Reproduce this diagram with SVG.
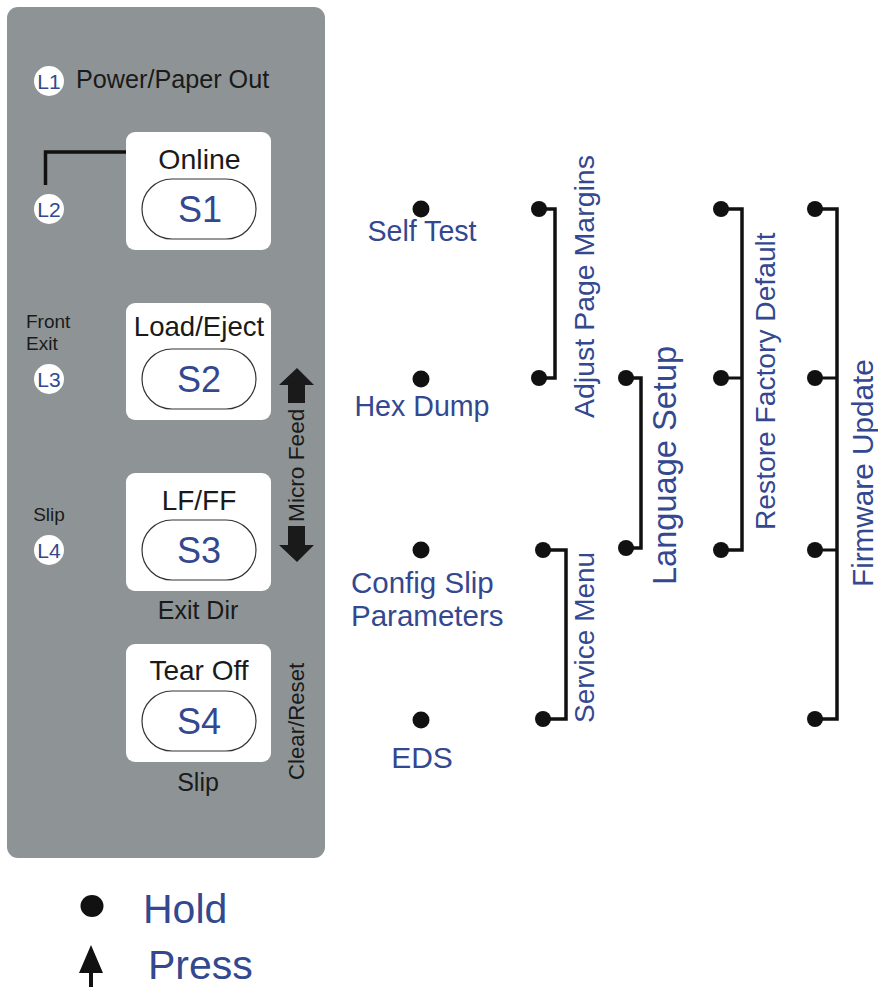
<svg xmlns="http://www.w3.org/2000/svg" width="878" height="987" viewBox="0 0 878 987">
<style>
text{font-family:"Liberation Sans",Arial,sans-serif}
.k{fill:#1a1a1a}.b{fill:#33488f}
.c{text-anchor:middle}
.key{fill:#fff}
.pill{fill:#fff;stroke:#333;stroke-width:1.2}
.led{fill:#fff}
.ln{fill:none;stroke:#111;stroke-width:3}
.thick{stroke-width:3.5}
.dot{fill:#111}
</style>
<rect width="878" height="987" fill="#fff"/>
<g id="panel"><rect x="7" y="7" width="318" height="851" rx="11" fill="#8e9496"/></g>
<g id="connectors">
<path class="ln thick" d="M45.500 185V152H127"/>
<path class="ln thick" d="M539 209H555V378H539"/>
<path class="ln thick" d="M626 378H641V548H626"/>
<path class="ln thick" d="M543 550H566V719H543"/>
<path class="ln thick" d="M721 209H742V550H721"/>
<path class="ln" d="M721 378H742"/>
<path class="ln thick" d="M815 209H837V719H815"/>
<path class="ln" d="M815 378H837"/>
<path class="ln" d="M815 550H837"/>
</g>
<g id="L1"><circle class="led" cx="49" cy="81" r="15"/><text class="b c" x="49" y="89" font-size="21">L1</text></g>
<text id="power" class="k" x="76" y="88" font-size="25.200">Power/Paper Out</text>
<g id="L2"><circle class="led" cx="49" cy="209" r="15"/><text class="b c" x="49" y="217" font-size="21">L2</text></g>
<g id="L3"><text class="k" x="26" y="328" font-size="19">Front</text><text class="k" x="26" y="350" font-size="19">Exit</text><circle class="led" cx="49" cy="379" r="15"/><text class="b c" x="49" y="387" font-size="21">L3</text></g>
<g id="L4"><text class="k c" x="49" y="521" font-size="19">Slip</text><circle class="led" cx="49" cy="550" r="15"/><text class="b c" x="49" y="558" font-size="21">L4</text></g>
<g id="S1"><rect class="key" x="126" y="132" width="145" height="118" rx="9"/><text class="k c" x="199.500" y="169" font-size="28.500">Online</text><rect class="pill" x="142" y="179" width="114" height="60" rx="30"/><text class="b c" x="200" y="222" font-size="36">S1</text></g>
<g id="S2"><rect class="key" x="126" y="303" width="145" height="117" rx="9"/><text class="k c" x="199" y="336" font-size="27.600">Load/Eject</text><rect class="pill" x="142" y="349" width="114" height="60" rx="30"/><text class="b c" x="199" y="392" font-size="36">S2</text></g>
<g id="S3"><rect class="key" x="126" y="473" width="145" height="118" rx="9"/><text class="k c" x="199" y="510" font-size="28">LF/FF</text><rect class="pill" x="142" y="520" width="114" height="60" rx="30"/><text class="b c" x="199" y="563" font-size="36">S3</text><text class="k c" x="198" y="619" font-size="25">Exit Dir</text></g>
<g id="S4"><rect class="key" x="126" y="644" width="145" height="118" rx="9"/><text class="k c" x="199" y="680" font-size="28">Tear Off</text><rect class="pill" x="142" y="691" width="114" height="60" rx="30"/><text class="b c" x="199" y="734" font-size="36">S4</text><text class="k c" x="198" y="791" font-size="25">Slip</text></g>
<g id="microfeed"><path class="k" d="M297 368L314 385H305V403H288V385H279Z"/><path class="k" d="M297 562L314 545H305V526H288V545H279Z"/><text class="k" transform="translate(304 522) rotate(-90)" font-size="22.700">Micro Feed</text></g>
<text id="clear" class="k" transform="translate(304 780) rotate(-90)" font-size="22.200">Clear/Reset</text>
<g id="selftest"><circle class="dot" cx="421" cy="209" r="8.500"/><text class="b c" x="422" y="241" font-size="28.600">Self Test</text></g>
<g id="hexdump"><circle class="dot" cx="421" cy="379" r="8.500"/><text class="b c" x="422" y="416" font-size="28.600">Hex Dump</text></g>
<g id="config"><circle class="dot" cx="421" cy="550" r="8.500"/><text class="b" x="351" y="593" font-size="29.500">Config Slip</text><text class="b" x="351" y="626" font-size="29.500">Parameters</text></g>
<g id="eds"><circle class="dot" cx="421" cy="720" r="8.500"/><text class="b c" x="422" y="768" font-size="30">EDS</text></g>
<g id="adjust"><circle class="dot" cx="539" cy="209" r="8"/><circle class="dot" cx="539" cy="378" r="8"/><text class="b" transform="translate(594 418) rotate(-90)" font-size="28.500">Adjust Page Margins</text></g>
<g id="language"><circle class="dot" cx="626" cy="378" r="8"/><circle class="dot" cx="626" cy="548" r="8"/><text class="b" transform="translate(676 585) rotate(-90)" font-size="32.600">Language Setup</text></g>
<g id="service"><circle class="dot" cx="543" cy="550" r="8"/><circle class="dot" cx="543" cy="719" r="8"/><text class="b" transform="translate(594 723) rotate(-90)" font-size="28">Service Menu</text></g>
<g id="factory"><circle class="dot" cx="721" cy="209" r="8"/><circle class="dot" cx="721" cy="378" r="8"/><circle class="dot" cx="721" cy="550" r="8"/><text class="b" transform="translate(775 530) rotate(-90)" font-size="28.200">Restore Factory Default</text></g>
<g id="firmware"><circle class="dot" cx="815" cy="209" r="8"/><circle class="dot" cx="815" cy="378" r="8"/><circle class="dot" cx="815" cy="550" r="8"/><circle class="dot" cx="815" cy="719" r="8"/><text class="b" transform="translate(873 587) rotate(-90)" font-size="29.700">Firmware Update</text></g>
<g id="legend"><ellipse class="dot" cx="92" cy="906" rx="11.500" ry="11"/><text class="b" x="143" y="923" font-size="41">Hold</text><path class="dot" d="M91 945L103 973H93V987H89V973H79Z"/><text class="b" x="148" y="979" font-size="41">Press</text></g>
</svg>
